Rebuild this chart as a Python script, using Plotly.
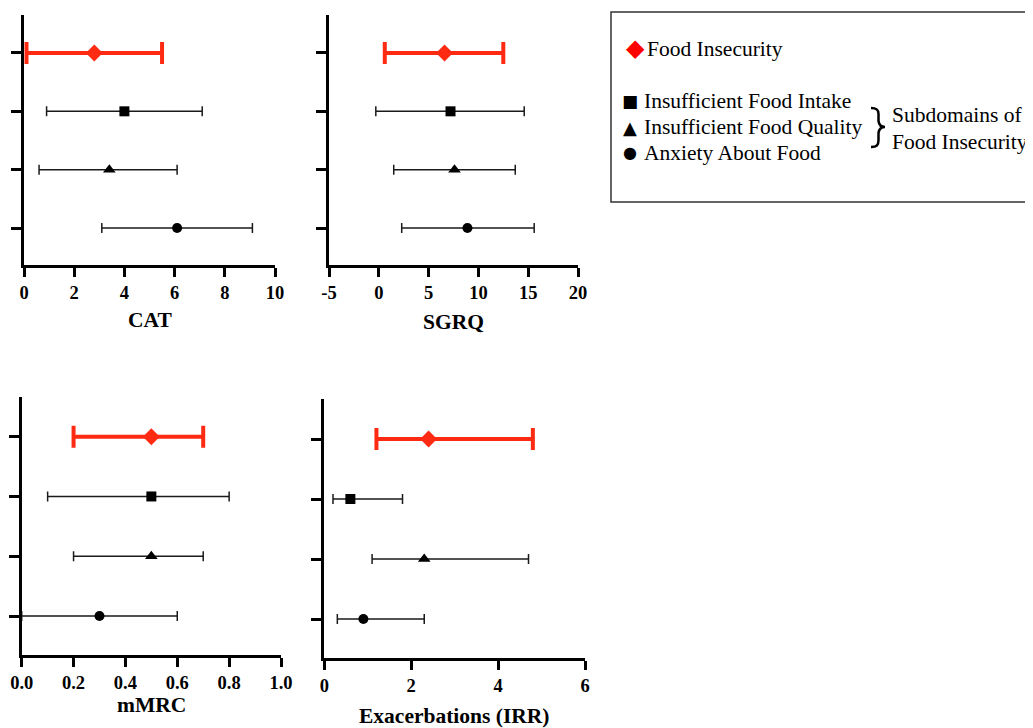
import plotly.graph_objects as go

# ---------------- data ----------------
rows = ["Food Insecurity", "Insufficient Food Intake", "Insufficient Food Quality", "Anxiety About Food"]
row_pos = [4, 3, 2, 1]
symbols = ["diamond", "square", "triangle-up", "circle"]

cat_est = [2.8, 4.0, 3.4, 6.1]
cat_lo = [0.1, 0.9, 0.6, 3.1]
cat_hi = [5.5, 7.1, 6.1, 9.1]

sgrq_est = [6.6, 7.2, 7.6, 8.9]
sgrq_lo = [0.6, -0.3, 1.5, 2.3]
sgrq_hi = [12.5, 14.6, 13.7, 15.6]

mmrc_est = [0.5, 0.5, 0.5, 0.3]
mmrc_lo = [0.2, 0.1, 0.2, 0.0]
mmrc_hi = [0.7, 0.8, 0.7, 0.6]

exac_est = [2.4, 0.6, 2.3, 0.9]
exac_lo = [1.2, 0.2, 1.1, 0.3]
exac_hi = [4.8, 1.8, 4.7, 2.3]

cat_ticks = [0, 2, 4, 6, 8, 10]
cat_ticktext = ["0", "2", "4", "6", "8", "10"]
sgrq_ticks = [-5, 0, 5, 10, 15, 20]
sgrq_ticktext = ["-5", "0", "5", "10", "15", "20"]
mmrc_ticks = [0, 0.2, 0.4, 0.6, 0.8, 1.0]
mmrc_ticktext = ["0.0", "0.2", "0.4", "0.6", "0.8", "1.0"]
exac_ticks = [0, 2, 4, 6]
exac_ticktext = ["0", "2", "4", "6"]

titles = ["CAT", "SGRQ", "mMRC", "Exacerbations (IRR)"]

# ---------------- layout helpers ----------------
PAGE_OFF = 8            # default body margin of the html page
W, H = 1033 - PAGE_OFF, 728 - PAGE_OFF
RED = "#FF2A12"
LEG_RED = "#FF0000"
BLACK = "#1a1a1a"
SERIF = "Liberation Serif, Times New Roman, serif"


def px(x):
    return (x - PAGE_OFF) / W


def py(y):
    return 1 - (y - PAGE_OFF) / H


panels = [
    dict(est=cat_est, lo=cat_lo, hi=cat_hi, ticks=cat_ticks, tt=cat_ticktext, xr=[0, 10],
         xd=(24, 275), yd=(15, 265), yr=[0.366, 4.651], title_y=320),
    dict(est=sgrq_est, lo=sgrq_lo, hi=sgrq_hi, ticks=sgrq_ticks, tt=sgrq_ticktext, xr=[-5, 20],
         xd=(329, 578), yd=(15, 265), yr=[0.366, 4.651], title_y=322),
    dict(est=mmrc_est, lo=mmrc_lo, hi=mmrc_hi, ticks=mmrc_ticks, tt=mmrc_ticktext, xr=[0, 1],
         xd=(21.7, 281), yd=(397, 655), yr=[0.348, 4.664], title_y=705),
    dict(est=exac_est, lo=exac_lo, hi=exac_hi, ticks=exac_ticks, tt=exac_ticktext, xr=[0, 6],
         xd=(324.3, 585), yd=(399, 658), yr=[0.35, 4.667], title_y=716),
]

marker_sizes = [13, 10, 11, 10]

fig = go.Figure()
layout = dict(
    template="none",
    width=W, height=H, margin=dict(l=0, r=0, t=0, b=0, autoexpand=False),
    paper_bgcolor="white", plot_bgcolor="white", showlegend=False,
    annotations=[], shapes=[],
)

for i, p in enumerate(panels):
    n = "" if i == 0 else str(i + 1)
    xa, ya = "x" + n, "y" + n
    for j in range(len(rows)):
        is_fi = j == 0
        fig.add_trace(go.Scatter(
            x=[p["est"][j]], y=[row_pos[j]], xaxis=xa, yaxis=ya, mode="markers",
            name=rows[j],
            marker=dict(symbol=symbols[j], size=marker_sizes[j],
                        color=RED if is_fi else "black", line=dict(width=0)),
            error_x=dict(type="data", symmetric=False,
                         array=[p["hi"][j] - p["est"][j]],
                         arrayminus=[p["est"][j] - p["lo"][j]],
                         color=RED if is_fi else BLACK,
                         thickness=4 if is_fi else 1.5,
                         width=11 if is_fi else 5),
            cliponaxis=False,
        ))
    layout["xaxis" + n] = dict(
        domain=[px(p["xd"][0]), px(p["xd"][1])], range=p["xr"], anchor=ya,
        automargin=False,
        showline=True, linecolor="black", linewidth=3, showgrid=False, zeroline=False,
        ticks="outside", ticklen=9, tickwidth=2.5, tickcolor="black",
        tickvals=p["ticks"], ticktext=p["tt"],
        tickfont=dict(family=SERIF, size=18.5, color="black", weight=700),
    )
    layout["yaxis" + n] = dict(
        domain=[py(p["yd"][1]), py(p["yd"][0])], range=p["yr"], anchor=xa,
        automargin=False,
        showline=True, linecolor="black", linewidth=3, showgrid=False, zeroline=False,
        ticks="outside", ticklen=10, tickwidth=2.5, tickcolor="black",
        tickvals=row_pos, showticklabels=False,
    )
    layout["annotations"].append(dict(
        text=titles[i], xref="paper", yref="paper",
        x=px((p["xd"][0] + p["xd"][1]) / 2), y=py(p["title_y"]),
        xanchor="center", yanchor="middle", showarrow=False,
        font=dict(family=SERIF, size=21.5, color="black", weight=700),
    ))

# ---------------- legend box ----------------
layout["shapes"].append(dict(
    type="rect", xref="paper", yref="paper",
    x0=px(611), x1=px(1045), y0=py(202), y1=py(12),
    line=dict(color="#333333", width=1.5), fillcolor="rgba(0,0,0,0)",
))

# brace
bx = [871, 877, 878.5, 878.5, 878.5, 879, 881, 885, 881, 879, 878.5, 878.5, 878.5, 877, 871]
by = [108, 108, 110, 114, 121, 125, 127, 127, 127, 129, 133, 140, 145, 147, 147]
path = "M {:.5f},{:.5f} C {:.5f},{:.5f} {:.5f},{:.5f} {:.5f},{:.5f} L {:.5f},{:.5f} C {:.5f},{:.5f} {:.5f},{:.5f} {:.5f},{:.5f} C {:.5f},{:.5f} {:.5f},{:.5f} {:.5f},{:.5f} L {:.5f},{:.5f} C {:.5f},{:.5f} {:.5f},{:.5f} {:.5f},{:.5f}".format(
    *sum([[px(a), py(b)] for a, b in zip(bx, by)], []))
layout["shapes"].append(dict(type="path", xref="paper", yref="paper", path=path,
                             line=dict(color="black", width=2.5)))

leg_font = dict(family=SERIF, size=21.5, color="black")
sym_font = "DejaVu Sans"


def ann(text, x, y, font, xanchor="left"):
    layout["annotations"].append(dict(
        text=text, xref="paper", yref="paper", x=px(x), y=py(y),
        xanchor=xanchor, yanchor="middle", showarrow=False, font=font))


ann("◆", 635, 48, dict(family=sym_font, size=24, color=LEG_RED), "center")
ann(rows[0], 644.5, 48.5, leg_font)
ann("■", 629.5, 101.5, dict(family=sym_font, size=17, color="black"), "center")
ann("▲", 630, 127.5, dict(family=sym_font, size=18, color="black"), "center")
ann("●", 629.5, 152.5, dict(family=sym_font, size=16, color="black"), "center")
ann(rows[1], 642, 101, leg_font)
ann(rows[2], 642, 127.5, leg_font)
ann(rows[3], 642, 153, leg_font)
ann("Subdomains of", 889.5, 115, leg_font)
ann("Food Insecurity", 889.5, 141.5, leg_font)

fig.update_layout(**layout)
fig.write_html("out.html")
